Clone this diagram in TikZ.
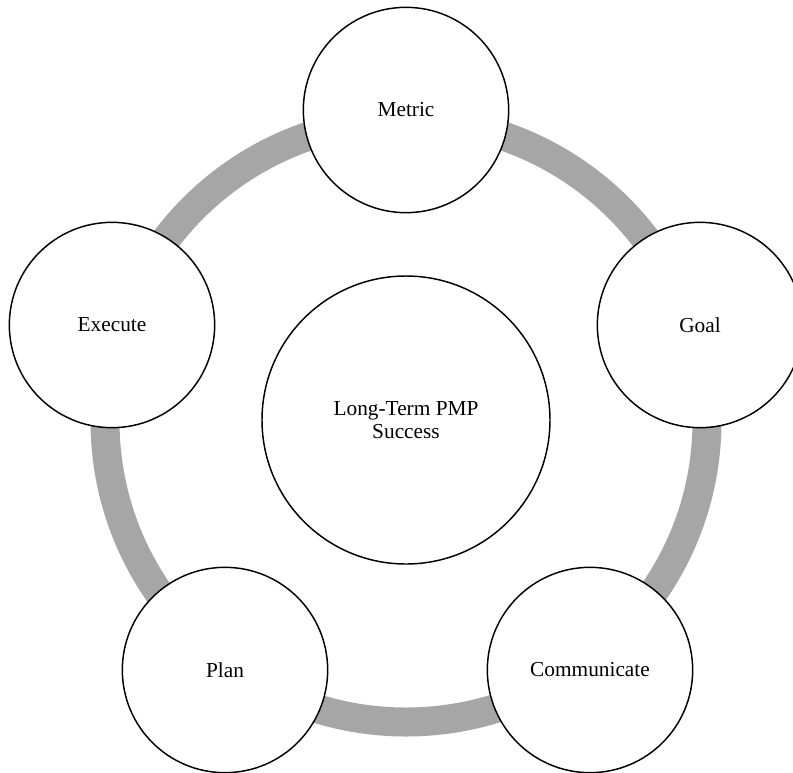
\documentclass[tikz,border=0pt]{standalone}
\usepackage{fontspec}
\setmainfont{Liberation Serif}
\usepackage{xcolor}
\definecolor{ringgray}{RGB}{166,166,166}

\begin{document}
\begin{tikzpicture}[x=0.75pt, y=-0.75pt,
	stage/.style={circle, draw=black, line width=1.1pt, fill=white, minimum size=154pt, inner sep=0pt, font=\fontsize{16}{17}\selectfont},
	hub/.style={circle, draw=black, line width=1.1pt, fill=white, minimum size=216pt, inner sep=0pt, align=center, font=\fontsize{16}{17}\selectfont}]
	\useasboundingbox (0,0) rectangle (793,772);
	\fill[white] (0,0) rectangle (793,772);

	\coordinate (ring) at (406,421);
	\draw[ringgray, line width=21.75pt] (ring) circle (301);

	\node[hub] (success) at (406,420) {Long-Term PMP\\Success};

	\node[stage] (metric) at (406,110) {Metric};
	\node[stage] (goal) at (700,325) {Goal};
	\node[stage] (communicate) at (590,670) {Communicate};
	\node[stage] (plan) at (225,670) {Plan};
	\node[stage] (execute) at (112,325) {Execute};
\end{tikzpicture}
\end{document}
